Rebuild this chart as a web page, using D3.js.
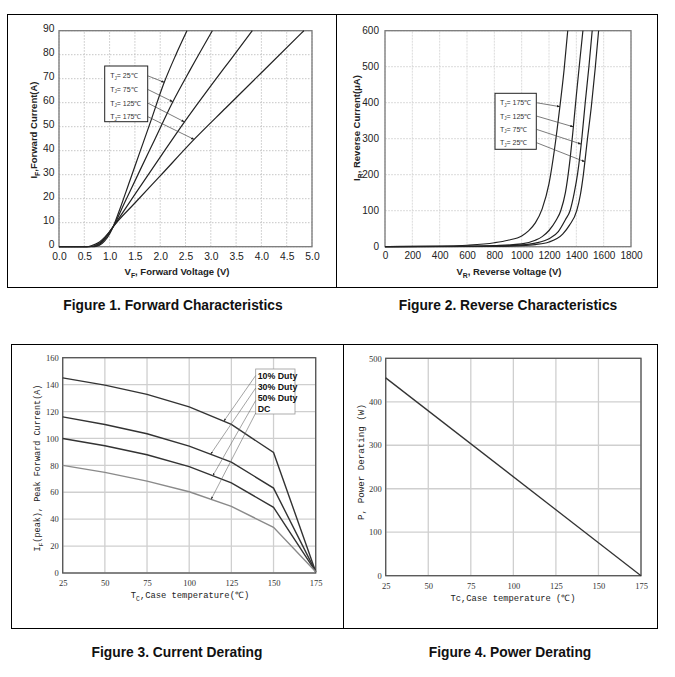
<!DOCTYPE html>
<html><head><meta charset="utf-8">
<script src="https://cdn.jsdelivr.net/npm/d3@7"></script>
<style>body{margin:0;background:#fff}svg{display:block}</style>
</head><body>
<svg id="c" width="675" height="677"></svg>
<script>
// ---------------- DATA ----------------
// Figure 1: forward characteristics  [VF (V), IF (A)]
const fwdLabels = ["25℃","75℃","125℃","175℃"];
const fwd25  = [[0,0],[0.6,0],[0.7,0.05],[0.8,0.6],[0.9,2.3],[1.0,5.3],[1.07,8.3],[1.2,15.5],[1.4,27.5],[1.6,39.5],[1.8,51.5],[2.08,68.5],[2.3,79.5],[2.53,90]];
const fwd75  = [[0,0],[0.58,0],[0.7,0.2],[0.8,1.0],[0.9,3.0],[1.0,5.8],[1.07,8.3],[1.3,18.5],[1.6,31.8],[1.9,45],[2.24,60],[2.6,74],[3.03,90]];
const fwd125 = [[0,0],[0.56,0],[0.7,0.4],[0.8,1.4],[0.9,3.5],[1.0,6.2],[1.07,8.3],[1.5,21.8],[2.0,37.3],[2.47,51.7],[3.0,67],[3.4,78.2],[3.82,90]];
const fwd175 = [[0,0],[0.54,0],[0.65,0.5],[0.8,2],[0.9,3.9],[1.0,6.3],[1.07,8.3],[1.5,18.2],[2.0,29.5],[2.67,44.7],[3.3,57.9],[4.0,72.5],[4.84,90]];
const fwdArrowV = [2.08, 2.25, 2.48, 2.67];
const fwdXTicks = [0,0.5,1,1.5,2,2.5,3,3.5,4,4.5,5];
const fwdYTicks = [0,10,20,30,40,50,60,70,80,90];

// Figure 2: reverse characteristics [VR (V), IR (uA)]
const revLabels = ["175℃","125℃","75℃","25℃"];
const rev175 = [[0,0],[400,1],[600,4],[800,11],[900,18],[1000,30],[1050,44],[1100,66],[1150,105],[1200,175],[1240,270],[1280,390],[1310,490],[1337,600]];
const rev125 = [[0,0],[600,1],[800,3],[1000,8],[1100,18],[1150,28],[1200,45],[1250,72],[1286,100],[1320,150],[1350,230],[1375,320],[1400,420],[1425,515],[1448,600]];
const rev75  = [[0,0],[800,2],[1000,5],[1100,10],[1200,22],[1268,42],[1320,75],[1354,100],[1385,150],[1410,205],[1440,300],[1465,400],[1492,500],[1516,600]];
const rev25  = [[0,0],[800,1],[1000,3],[1100,6],[1200,13],[1300,35],[1350,60],[1403,100],[1430,145],[1451,199],[1480,295],[1510,390],[1538,495],[1563,600]];
const revArrowI = [389, 333, 285, 236];
const revXTicks = [0,200,400,600,800,1000,1200,1400,1600,1800];
const revYTicks = [0,100,200,300,400,500,600];

// Figure 3: current derating [Tc (C), IF(peak) (A)]
const tcPoints = [25,50,75,100,125,150,175];
const duty10 = [145,139.6,132.7,123.5,110.4,89.6,1];
const duty30 = [116,110.4,103.5,94.3,82.4,63.1,1];
const duty50 = [100,94.6,87.9,79,67,48.8,1];
const dutyDC = [80,74.8,68.3,60.4,49.5,33.9,1];
const dutyLabels = ["10% Duty","30% Duty","50% Duty","DC"];
const dutyArrowT = [120.5, 112.7, 114, 113];
const derYTicks = [0,20,40,60,80,100,120,140,160];
const derXTicks = [25,50,75,100,125,150,175];

// Figure 4: power derating [Tc (C), P (W)]
const pwrT = [25,175];
const pwrP = [455,0];
const pwrYTicks = [0,100,200,300,400,500];

// ---------------- DRAWING ----------------
const svg = d3.select("#c");
const ARIAL = "'Liberation Sans', Arial, sans-serif";
const MONO = "'Liberation Mono', 'DejaVu Sans Mono', monospace";
const SERIF = "'Liberation Serif', 'DejaVu Serif', serif";

function panel(x0,y0,x1,y1){
  svg.append("rect").attr("x",x0).attr("y",y0).attr("width",x1-x0).attr("height",y1-y0)
    .attr("fill","none").attr("stroke","#000").attr("stroke-width",1);
}
panel(7.5,14.5,336.5,287.5);
panel(336.5,14.5,657.5,287.5);
panel(11.5,344.5,343.5,628.5);
panel(343.5,344.5,657.5,628.5);

function interpY(pts, xv){
  for(let i=1;i<pts.length;i++){
    if(xv<=pts[i][0]){const a=pts[i-1],b=pts[i];return a[1]+(b[1]-a[1])*(xv-a[0])/(b[0]-a[0]);}
  }
  return pts[pts.length-1][1];
}
function interpX(pts, yv){
  for(let i=1;i<pts.length;i++){
    if(yv<=pts[i][1] && pts[i][1]>pts[i-1][1]){const a=pts[i-1],b=pts[i];return a[0]+(b[0]-a[0])*(yv-a[1])/(b[1]-a[1]);}
  }
  return pts[pts.length-1][0];
}

const defs = svg.append("defs");
function marker(id,color){
  defs.append("marker").attr("id",id).attr("viewBox","0 0 10 10").attr("refX",9).attr("refY",5)
    .attr("markerWidth",5).attr("markerHeight",5).attr("orient","auto")
    .append("path").attr("d","M0,1.5L10,5L0,8.5Z").attr("fill",color);
}
marker("ar1","#222");
marker("ar3","#333");

function grid(g,x,y,xt,yt,style){
  g.append("g").selectAll("line").data(xt).join("line")
    .attr("x1",d=>x(d)).attr("x2",d=>x(d)).attr("y1",y.range()[0]).attr("y2",y.range()[1])
    .attr("stroke",style.c).attr("stroke-width",style.w).attr("stroke-dasharray",style.dash||null);
  g.append("g").selectAll("line").data(yt).join("line")
    .attr("y1",d=>y(d)).attr("y2",d=>y(d)).attr("x1",x.range()[0]).attr("x2",x.range()[1])
    .attr("stroke",style.c).attr("stroke-width",style.w).attr("stroke-dasharray",style.dash||null);
}
function frame(g,x,y,color,w){
  g.append("rect").attr("x",x.range()[0]).attr("y",y.range()[1])
    .attr("width",x.range()[1]-x.range()[0]).attr("height",y.range()[0]-y.range()[1])
    .attr("fill","none").attr("stroke",color).attr("stroke-width",w);
}
function axes(g,x,y,xt,yt,fmtX,fmtY,font,size,padX,padY,color,yDy){
  const ax = g.append("g").attr("transform",`translate(0,${y.range()[0]})`)
    .call(d3.axisBottom(x).tickValues(xt).tickFormat(fmtX).tickSize(0).tickPadding(padX));
  const ay = g.append("g").attr("transform",`translate(${x.range()[0]},0)`)
    .call(d3.axisLeft(y).tickValues(yt).tickFormat(fmtY).tickSize(0).tickPadding(padY));
  [ax,ay].forEach(a=>{a.select(".domain").remove();
    a.selectAll("text").attr("font-family",font).attr("font-size",size).attr("fill",color);});
  if(yDy) ay.selectAll("text").attr("dy",yDy);
}
function subText(g,x,y,parts,opts){
  const t = g.append("text").attr("x",x).attr("y",y).attr("text-anchor","middle")
    .attr("font-family",opts.font).attr("font-size",opts.size).attr("font-weight",opts.weight||"normal")
    .attr("fill",opts.color||"#000");
  if(opts.rotate) t.attr("transform",`rotate(-90,${x},${y})`);
  parts.forEach(p=>{
    if(p.sub){ t.append("tspan").attr("font-size",opts.size*0.72).attr("dy",opts.size*0.3).text(p.sub); }
    else { t.append("tspan").attr("dy",p.after? -opts.size*0.3:0).text(p.t); }
  });
  return t;
}

// ---- Figure 1 ----
{
  const g = svg.append("g");
  const x = d3.scaleLinear([0,5],[59,312]);
  const y = d3.scaleLinear([0,90],[246.7,30.7]);
  grid(g,x,y,fwdXTicks,fwdYTicks,{c:"#b8b8b8",w:0.8,dash:"1.5,1.5"});
  frame(g,x,y,"#7a7a7a",1.3);
  axes(g,x,y,fwdXTicks,fwdYTicks,d3.format(".1f"),d3.format("d"),ARIAL,10.3,6,4.5,"#222","0.12em");
  const line = d3.line().x(d=>x(d[0])).y(d=>y(d[1])).curve(d3.curveMonotoneX);
  const series = [fwd25,fwd75,fwd125,fwd175];
  g.selectAll(".f1").data(series).join("path").attr("d",line)
    .attr("fill","none").attr("stroke","#222").attr("stroke-width",1.2);
  // legend
  const lx0=104.7, ly0=66, lx1=147.7, ly1=121.7;
  g.append("rect").attr("x",lx0).attr("y",ly0).attr("width",lx1-lx0).attr("height",ly1-ly0)
    .attr("fill","#fff").attr("stroke","#222").attr("stroke-width",1);
  fwdLabels.forEach((lab,i)=>{
    const ry = 78.3 + i*13.6;
    const t = g.append("text").attr("x",lx0+5.5).attr("y",ry).attr("font-family",ARIAL).attr("font-size",7).attr("fill","#333");
    t.append("tspan").text("T");
    t.append("tspan").attr("font-size",4.5).attr("dy",1.5).text("J");
    t.append("tspan").attr("dy",-1.5).text("= "+lab);
    const v = fwdArrowV[i];
    g.append("line").attr("x1",lx1).attr("y1",ry-2.5).attr("x2",x(v)).attr("y2",y(interpY(series[i],v)))
      .attr("stroke","#444").attr("stroke-width",0.7).attr("marker-end","url(#ar1)");
  });
  subText(g,177,275,[{t:"V"},{sub:"F"},{t:", Forward Voltage (V)",after:true}],{font:ARIAL,size:9.5,weight:"bold",color:"#222"});
  subText(g,37,130,[{t:"I"},{sub:"F"},{t:",Forward Current(A)",after:true}],{font:ARIAL,size:9.5,weight:"bold",color:"#222",rotate:true});
}

// ---- Figure 2 ----
{
  const g = svg.append("g");
  const x = d3.scaleLinear([0,1800],[385,631]);
  const y = d3.scaleLinear([0,600],[246.7,30.7]);
  grid(g,x,y,revXTicks,revYTicks,{c:"#d2d2d2",w:0.8,dash:"2,1"});
  frame(g,x,y,"#7a7a7a",1.3);
  axes(g,x,y,revXTicks,revYTicks,d3.format("d"),d3.format("d"),ARIAL,10,5,6,"#222");
  const series = [rev175,rev125,rev75,rev25];
  g.selectAll(".f2").data(series).join("path").attr("d",d3.line().x(d=>x(d[0])).y(d=>y(d[1])).curve(d3.curveMonotoneX))
    .attr("fill","none").attr("stroke","#222").attr("stroke-width",1.2);
  const lx0=495, ly0=93.3, lx1=536.3, ly1=149.3;
  g.append("rect").attr("x",lx0).attr("y",ly0).attr("width",lx1-lx0).attr("height",ly1-ly0)
    .attr("fill","#fff").attr("stroke","#222").attr("stroke-width",1);
  revLabels.forEach((lab,i)=>{
    const ry = 105.2 + i*13.3;
    const t = g.append("text").attr("x",lx0+5).attr("y",ry).attr("font-family",ARIAL).attr("font-size",7).attr("fill","#333");
    t.append("tspan").text("T");
    t.append("tspan").attr("font-size",4.5).attr("dy",1.5).text("J");
    t.append("tspan").attr("dy",-1.5).text("= "+lab);
    const iv = revArrowI[i];
    g.append("line").attr("x1",lx1).attr("y1",ry-2.5).attr("x2",x(interpX(series[i],iv))).attr("y2",y(iv))
      .attr("stroke","#444").attr("stroke-width",0.7).attr("marker-end","url(#ar1)");
  });
  subText(g,509,275,[{t:"V"},{sub:"R"},{t:", Reverse Voltage (V)",after:true}],{font:ARIAL,size:9.5,weight:"bold",color:"#222"});
  subText(g,360,128,[{t:"I"},{sub:"R"},{t:", Reverse Current(μA)",after:true}],{font:ARIAL,size:9.5,weight:"bold",color:"#222",rotate:true});
}

// ---- Figure 3 ----
{
  const g = svg.append("g");
  const x = d3.scaleLinear([25,175],[62.7,315.7]);
  const y = d3.scaleLinear([0,160],[573,357.7]);
  grid(g,x,y,derXTicks,derYTicks,{c:"#cfcfcf",w:1.3});
  frame(g,x,y,"#555",1.3);
  axes(g,x,y,derXTicks,derYTicks,d3.format("d"),d3.format("d"),SERIF,8.5,7,4,"#333");
  const series = [duty10,duty30,duty50,dutyDC];
  const colors = ["#333","#333","#333","#8a8a8a"];
  const line = d3.line().x((d,i)=>x(tcPoints[i])).y(d=>y(d));
  g.selectAll(".f3").data(series).join("path").attr("d",line)
    .attr("fill","none").attr("stroke",(d,i)=>colors[i]).attr("stroke-width",1.4);
  const lx0=255.7, ly0=369, lx1=295, ly1=414;
  g.append("rect").attr("x",lx0).attr("y",ly0).attr("width",lx1-lx0).attr("height",ly1-ly0)
    .attr("fill","#fff").attr("stroke","#999").attr("stroke-width",0.8);
  dutyLabels.forEach((lab,i)=>{
    const ry = 378.5 + i*11;
    g.append("text").attr("x",lx0+2).attr("y",ry).attr("font-family",ARIAL).attr("font-size",8.8)
      .attr("font-weight","bold").attr("fill","#111").text(lab);
    const tv = dutyArrowT[i];
    const pts = tcPoints.map((t,k)=>[t,series[i][k]]);
    g.append("line").attr("x1",lx0).attr("y1",ry-3+i*1.5).attr("x2",x(tv)).attr("y2",y(interpY(pts,tv)))
      .attr("stroke","#666").attr("stroke-width",0.6).attr("marker-end","url(#ar3)");
  });
  subText(g,190,598,[{t:"T"},{sub:"C"},{t:",Case temperature(℃)",after:true}],{font:MONO,size:8.8,color:"#222"});
  subText(g,40,468,[{t:"I"},{sub:"F"},{t:"(peak), Peak Forward Current(A)",after:true}],{font:MONO,size:8.5,color:"#222",rotate:true});
}

// ---- Figure 4 ----
{
  const g = svg.append("g");
  const x = d3.scaleLinear([25,175],[385.7,641]);
  const y = d3.scaleLinear([0,500],[575.7,358.3]);
  grid(g,x,y,derXTicks,pwrYTicks,{c:"#cfcfcf",w:1.3});
  frame(g,x,y,"#555",1.3);
  axes(g,x,y,derXTicks,pwrYTicks,d3.format("d"),d3.format("d"),SERIF,8.5,7,4,"#333");
  const line = d3.line().x((d,i)=>x(pwrT[i])).y(d=>y(d));
  g.append("path").datum(pwrP).attr("d",line).attr("fill","none").attr("stroke","#333").attr("stroke-width",1.3);
  g.append("text").attr("x",513).attr("y",601).attr("text-anchor","middle").attr("font-family",MONO)
    .attr("font-size",8.8).attr("fill","#222").text("Tc,Case temperature (℃)");
  g.append("text").attr("transform","translate(364,462) rotate(-90)").attr("text-anchor","middle")
    .attr("font-family",MONO).attr("font-size",9.2).attr("fill","#222").text("P, Power Derating (W)");
}

// ---- Captions ----
const captions = [
  {t:"Figure 1. Forward Characteristics", x:173, y:310},
  {t:"Figure 2. Reverse Characteristics", x:508, y:310},
  {t:"Figure 3. Current Derating", x:177, y:657},
  {t:"Figure 4. Power Derating", x:510, y:657}
];
svg.selectAll(".cap").data(captions).join("text").attr("x",d=>d.x).attr("y",d=>d.y)
  .attr("text-anchor","middle").attr("font-family",ARIAL).attr("font-weight","bold").attr("font-size",13.8)
  .attr("fill","#111").text(d=>d.t);
</script>
</body></html>
